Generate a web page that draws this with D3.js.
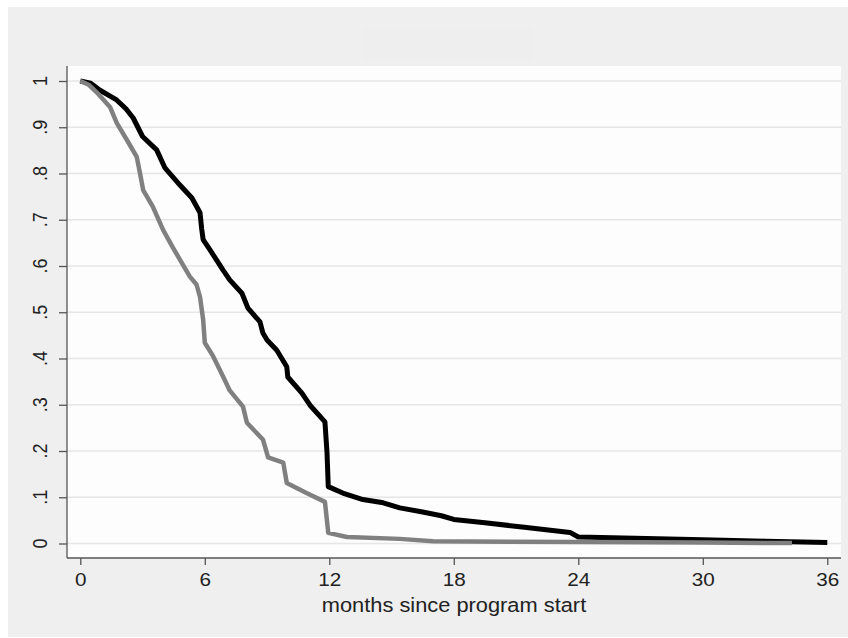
<!DOCTYPE html>
<html>
<head>
<meta charset="utf-8">
<script src="https://cdn.jsdelivr.net/npm/d3@7"></script>
<style>
  body { margin: 0; background: #fff; }
  text { font-family: "Liberation Sans", Arial, sans-serif; fill: #222; }
</style>
</head>
<body>
<svg></svg>
<script>
// survival curves (month, share still in program)
var blackMonths = [0, 0.5, 0.95, 1.75, 2.2, 2.55, 3.0, 3.68, 4.08, 4.8, 5.38, 5.77, 5.85, 5.92, 6.25, 6.88, 7.2, 7.79, 8.08, 8.66, 8.8, 9.0, 9.47, 9.95, 10.0, 10.68, 11.07, 11.79, 11.89, 11.95, 12.65, 13.62, 14.6, 15.4, 16.5, 17.4, 18.0, 19.5, 21.4, 23.6, 24.0, 26.2, 30, 33, 36];
var blackSurv   = [1, 0.995, 0.98, 0.959, 0.94, 0.92, 0.88, 0.851, 0.812, 0.775, 0.747, 0.715, 0.68, 0.657, 0.635, 0.591, 0.57, 0.541, 0.509, 0.479, 0.455, 0.44, 0.418, 0.382, 0.36, 0.325, 0.299, 0.263, 0.196, 0.123, 0.109, 0.095, 0.088, 0.077, 0.068, 0.06, 0.052, 0.045, 0.035, 0.024, 0.014, 0.012, 0.008, 0.005, 0.002];

var grayMonths = [0, 0.4, 0.8, 1.43, 1.76, 2.24, 2.72, 2.88, 3.03, 3.5, 3.99, 4.47, 4.8, 5.28, 5.6, 5.77, 5.92, 6.0, 6.4, 6.88, 7.2, 7.84, 8.03, 8.8, 9.05, 9.78, 9.95, 10.9, 11.79, 11.95, 12.85, 15.4, 17, 24, 30, 34.3];
var graySurv   = [1, 0.992, 0.975, 0.944, 0.909, 0.873, 0.836, 0.8, 0.764, 0.728, 0.678, 0.639, 0.614, 0.577, 0.56, 0.533, 0.484, 0.434, 0.405, 0.361, 0.331, 0.296, 0.261, 0.225, 0.186, 0.175, 0.131, 0.109, 0.09, 0.023, 0.014, 0.01, 0.005, 0.003, 0.002, 0.001];

var xTicks = [0, 6, 12, 18, 24, 30, 36];
var yTicks = [0, 0.1, 0.2, 0.3, 0.4, 0.5, 0.6, 0.7, 0.8, 0.9, 1];
var yTickLabels = ["0", ".1", ".2", ".3", ".4", ".5", ".6", ".7", ".8", ".9", "1"];

//measurements
var screen = {width: 848, height: 638};
var plot = {left: 67, top: 66, right: 841, bottom: 558};
var stretch = 1.15; // the picture's text is a bit wide

var svg = d3.select("svg")
            .attr("width", screen.width)
            .attr("height", screen.height);

//backgrounds
svg.append("rect")
   .attr("x", 8).attr("y", 7)
   .attr("width", screen.width - 8).attr("height", 630)
   .attr("fill", "#efefef");

svg.append("rect")
   .attr("x", 363).attr("y", 27)
   .attr("width", 170).attr("height", 34)
   .attr("fill", "#eeeeee");

svg.append("rect")
   .attr("x", plot.left).attr("y", plot.top)
   .attr("width", plot.right - plot.left).attr("height", plot.bottom - plot.top)
   .attr("fill", "#fdfdfd");

//scales
var xScale = d3.scaleLinear()
               .domain([0, 36])
               .range([80.3, 827.3]);

var yScale = d3.scaleLinear()
               .domain([0, 1])
               .range([543.5, 81]);

//grid
svg.append("g")
   .selectAll("line")
   .data(yTicks)
   .enter()
   .append("line")
   .attr("x1", plot.left)
   .attr("x2", plot.right)
   .attr("y1", function(d){return yScale(d)})
   .attr("y2", function(d){return yScale(d)})
   .attr("stroke", "#e6e6e6")
   .attr("stroke-width", 1.5);

//axes
var xAxis = svg.append("g")
               .attr("transform", "translate(0," + plot.bottom + ")")
               .call(d3.axisBottom(xScale).tickValues(xTicks).tickSize(7).tickPadding(8).tickSizeOuter(0));
xAxis.select(".domain").attr("d", "M" + plot.left + ",0H" + plot.right);
xAxis.selectAll("line, path").attr("stroke", "#555").attr("stroke-width", 1.3);
xAxis.selectAll("text")
     .attr("font-size", 18)
     .attr("dy", "0.71em")
     .attr("transform", "scale(" + stretch + ",1)")
     .attr("fill", "#222");

var yAxis = svg.append("g")
               .attr("transform", "translate(" + plot.left + ",0)")
               .call(d3.axisLeft(yScale).tickValues(yTicks).tickSize(8).tickFormat("").tickSizeOuter(0));
yAxis.select(".domain").attr("d", "M0," + plot.top + "V" + plot.bottom);
yAxis.selectAll("line, path").attr("stroke", "#555").attr("stroke-width", 1.3);

svg.append("g")
   .selectAll("text")
   .data(yTicks)
   .enter()
   .append("text")
   .attr("transform", function(d){return "translate(46.7," + yScale(d) + ") rotate(-90) scale(1," + stretch + ")"})
   .attr("text-anchor", "middle")
   .attr("font-size", 18)
   .text(function(d, i){return yTickLabels[i]});

svg.append("text")
   .attr("transform", "translate(" + (plot.left + plot.right) / 2 + ",611.5) scale(1.12,1)")
   .attr("text-anchor", "middle")
   .attr("font-size", 19.5)
   .text("months since program start");

//curves
var line = d3.line()
             .x(function(d){return xScale(d[0])})
             .y(function(d){return yScale(d[1])});

var grayData = grayMonths.map(function(m, i){return [m, graySurv[i]]});
var blackData = blackMonths.map(function(m, i){return [m, blackSurv[i]]});

svg.append("path")
   .datum(blackData)
   .attr("d", line)
   .attr("fill", "none")
   .attr("stroke", "#000")
   .attr("stroke-width", 5)
   .attr("stroke-linejoin", "round");

svg.append("path")
   .datum(grayData)
   .attr("d", line)
   .attr("fill", "none")
   .attr("stroke", "#808080")
   .attr("stroke-width", 4.5)
   .attr("stroke-linejoin", "round");
</script>
</body>
</html>
